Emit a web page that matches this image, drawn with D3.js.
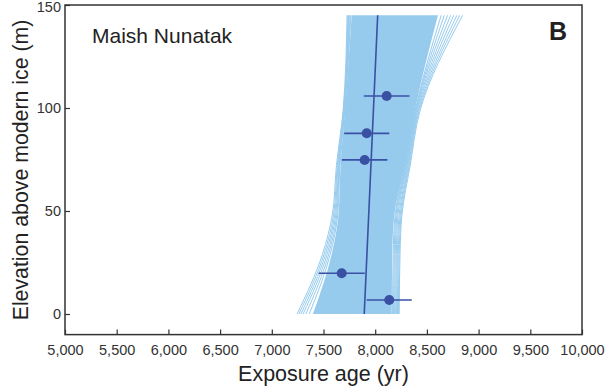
<!DOCTYPE html>
<html>
<head>
<meta charset="utf-8">
<script src="https://cdn.jsdelivr.net/npm/d3@7"></script>
<style>
  html, body { margin: 0; padding: 0; background: #fff; }
  svg { display: block; font-family: "Liberation Sans", Arial, sans-serif; }
</style>
</head>
<body>
<svg id="chart" width="608" height="387"></svg>
<script>
// ---- data ----
const xTicks = [5000, 5500, 6000, 6500, 7000, 7500, 8000, 8500, 9000, 9500, 10000];
const yTicks = [0, 50, 100, 150];

// sample exposure ages (yr), 1-sigma errors and elevations (m)
const sampleAge  = [8111, 7918, 7898, 7676, 8136];
const sampleErr  = [221, 218, 220, 223, 218];
const sampleElev = [105.8, 87.7, 74.8, 19.8, 6.8];

// best-fit thinning line
const fitElev = [0, 145];
const fitAge  = [7894, 8024];

// envelope of model realizations (dense core)
const bandElev  = [0, 29, 48, 72, 99, 145];
const coreLeft  = [7398, 7579, 7645, 7665, 7708, 7773];
const coreRight = [8160, 8165, 8185, 8290, 8385, 8607];

// individual realizations at the envelope edges (ages at bandElev)
const edgeLines = [
  [7244, 7490, 7585, 7625, 7690, 7728],
  [7262, 7505, 7597, 7633, 7694, 7736],
  [7282, 7520, 7608, 7640, 7697, 7743],
  [7303, 7535, 7618, 7647, 7700, 7750],
  [7330, 7550, 7628, 7653, 7703, 7758],
  [7362, 7565, 7637, 7659, 7706, 7766],
  [8232, 8240, 8258, 8338, 8435, 8846],
  [8224, 8232, 8250, 8330, 8426, 8818],
  [8216, 8223, 8241, 8322, 8418, 8790],
  [8207, 8214, 8231, 8315, 8410, 8760],
  [8198, 8204, 8220, 8308, 8403, 8730],
  [8188, 8194, 8210, 8301, 8396, 8700],
  [8178, 8184, 8200, 8296, 8392, 8668],
  [8168, 8174, 8192, 8292, 8388, 8638]
];

// ---- layout ----
const svg = d3.select("#chart");
const L = 65, R = 582, T = 5, B = 334.6;
const x = d3.scaleLinear().domain([5000, 10000]).range([L, R]);
const y = d3.scaleLinear().domain([-10, 150]).range([B, T]);

const bandColor = "#96cbee";
const darkBlue = "#3a50a3";
const axisColor = "#333";

// envelope area
const bandData = bandElev.map((e, i) => ({e, l: coreLeft[i], r: coreRight[i]})).reverse();
svg.append("path")
  .datum(bandData)
  .attr("fill", bandColor)
  .attr("d", d3.area()
    .y(d => y(d.e)).x0(d => x(d.l)).x1(d => x(d.r))
    .curve(d3.curveMonotoneY));

// edge realizations
const lineGen = d3.line().x(d => x(d.a)).y(d => y(d.e)).curve(d3.curveMonotoneY);
svg.append("g").selectAll("path")
  .data(edgeLines)
  .join("path")
  .attr("fill", "none")
  .attr("stroke", bandColor)
  .attr("stroke-width", 1)
  .attr("d", ln => lineGen(bandElev.map((e, i) => ({e, a: ln[i]})).reverse()));

// fit line
svg.append("path")
  .datum(fitElev.map((e, i) => ({e, a: fitAge[i]})))
  .attr("fill", "none")
  .attr("stroke", darkBlue)
  .attr("stroke-width", 1.6)
  .attr("d", d3.line().x(d => x(d.a)).y(d => y(d.e)));

// error bars + points
const samples = sampleAge.map((a, i) => ({a, err: sampleErr[i], e: sampleElev[i]}));
svg.append("g").selectAll("line")
  .data(samples)
  .join("line")
  .attr("x1", d => x(d.a - d.err)).attr("x2", d => x(d.a + d.err))
  .attr("y1", d => y(d.e)).attr("y2", d => y(d.e))
  .attr("stroke", darkBlue).attr("stroke-width", 1.6);
svg.append("g").selectAll("circle")
  .data(samples)
  .join("circle")
  .attr("cx", d => x(d.a)).attr("cy", d => y(d.e))
  .attr("r", 5).attr("fill", darkBlue);

// axes (inward ticks)
const xAxis = svg.append("g").attr("transform", `translate(0,${B})`)
  .call(d3.axisBottom(x).tickValues(xTicks).tickFormat(d3.format(","))
    .tickSizeInner(-5).tickSizeOuter(0).tickPadding(10));
const yAxis = svg.append("g").attr("transform", `translate(${L},0)`)
  .call(d3.axisLeft(y).tickValues(yTicks)
    .tickSizeInner(-5).tickSizeOuter(0).tickPadding(4));
[xAxis, yAxis].forEach(g => {
  g.select(".domain").remove();
  g.selectAll("line").attr("stroke", axisColor).attr("stroke-width", 1.2);
  g.selectAll("text").attr("fill", axisColor).style("font-size", "14.5px");
});
// keep the top tick label inside the picture
yAxis.selectAll(".tick text").filter(d => d === 150).attr("dy", "0.45em");

// frame
svg.append("rect")
  .attr("x", L).attr("y", T).attr("width", R - L).attr("height", B - T)
  .attr("fill", "none").attr("stroke", axisColor).attr("stroke-width", 1.5);

// labels
svg.append("text")
  .attr("x", (L + R) / 2).attr("y", 381)
  .attr("text-anchor", "middle").attr("fill", "#222")
  .style("font-size", "21.5px").text("Exposure age (yr)");
svg.append("text")
  .attr("transform", `translate(28,${170}) rotate(-90)`)
  .attr("text-anchor", "middle").attr("fill", "#222")
  .style("font-size", "21.3px").text("Elevation above modern ice (m)");
svg.append("text")
  .attr("x", 92).attr("y", 43)
  .attr("fill", "#222").style("font-size", "21px").text("Maish Nunatak");
svg.append("text")
  .attr("x", 567).attr("y", 39.5).attr("text-anchor", "end")
  .attr("fill", "#222").style("font-size", "25px").style("font-weight", "bold").text("B");
</script>
</body>
</html>
